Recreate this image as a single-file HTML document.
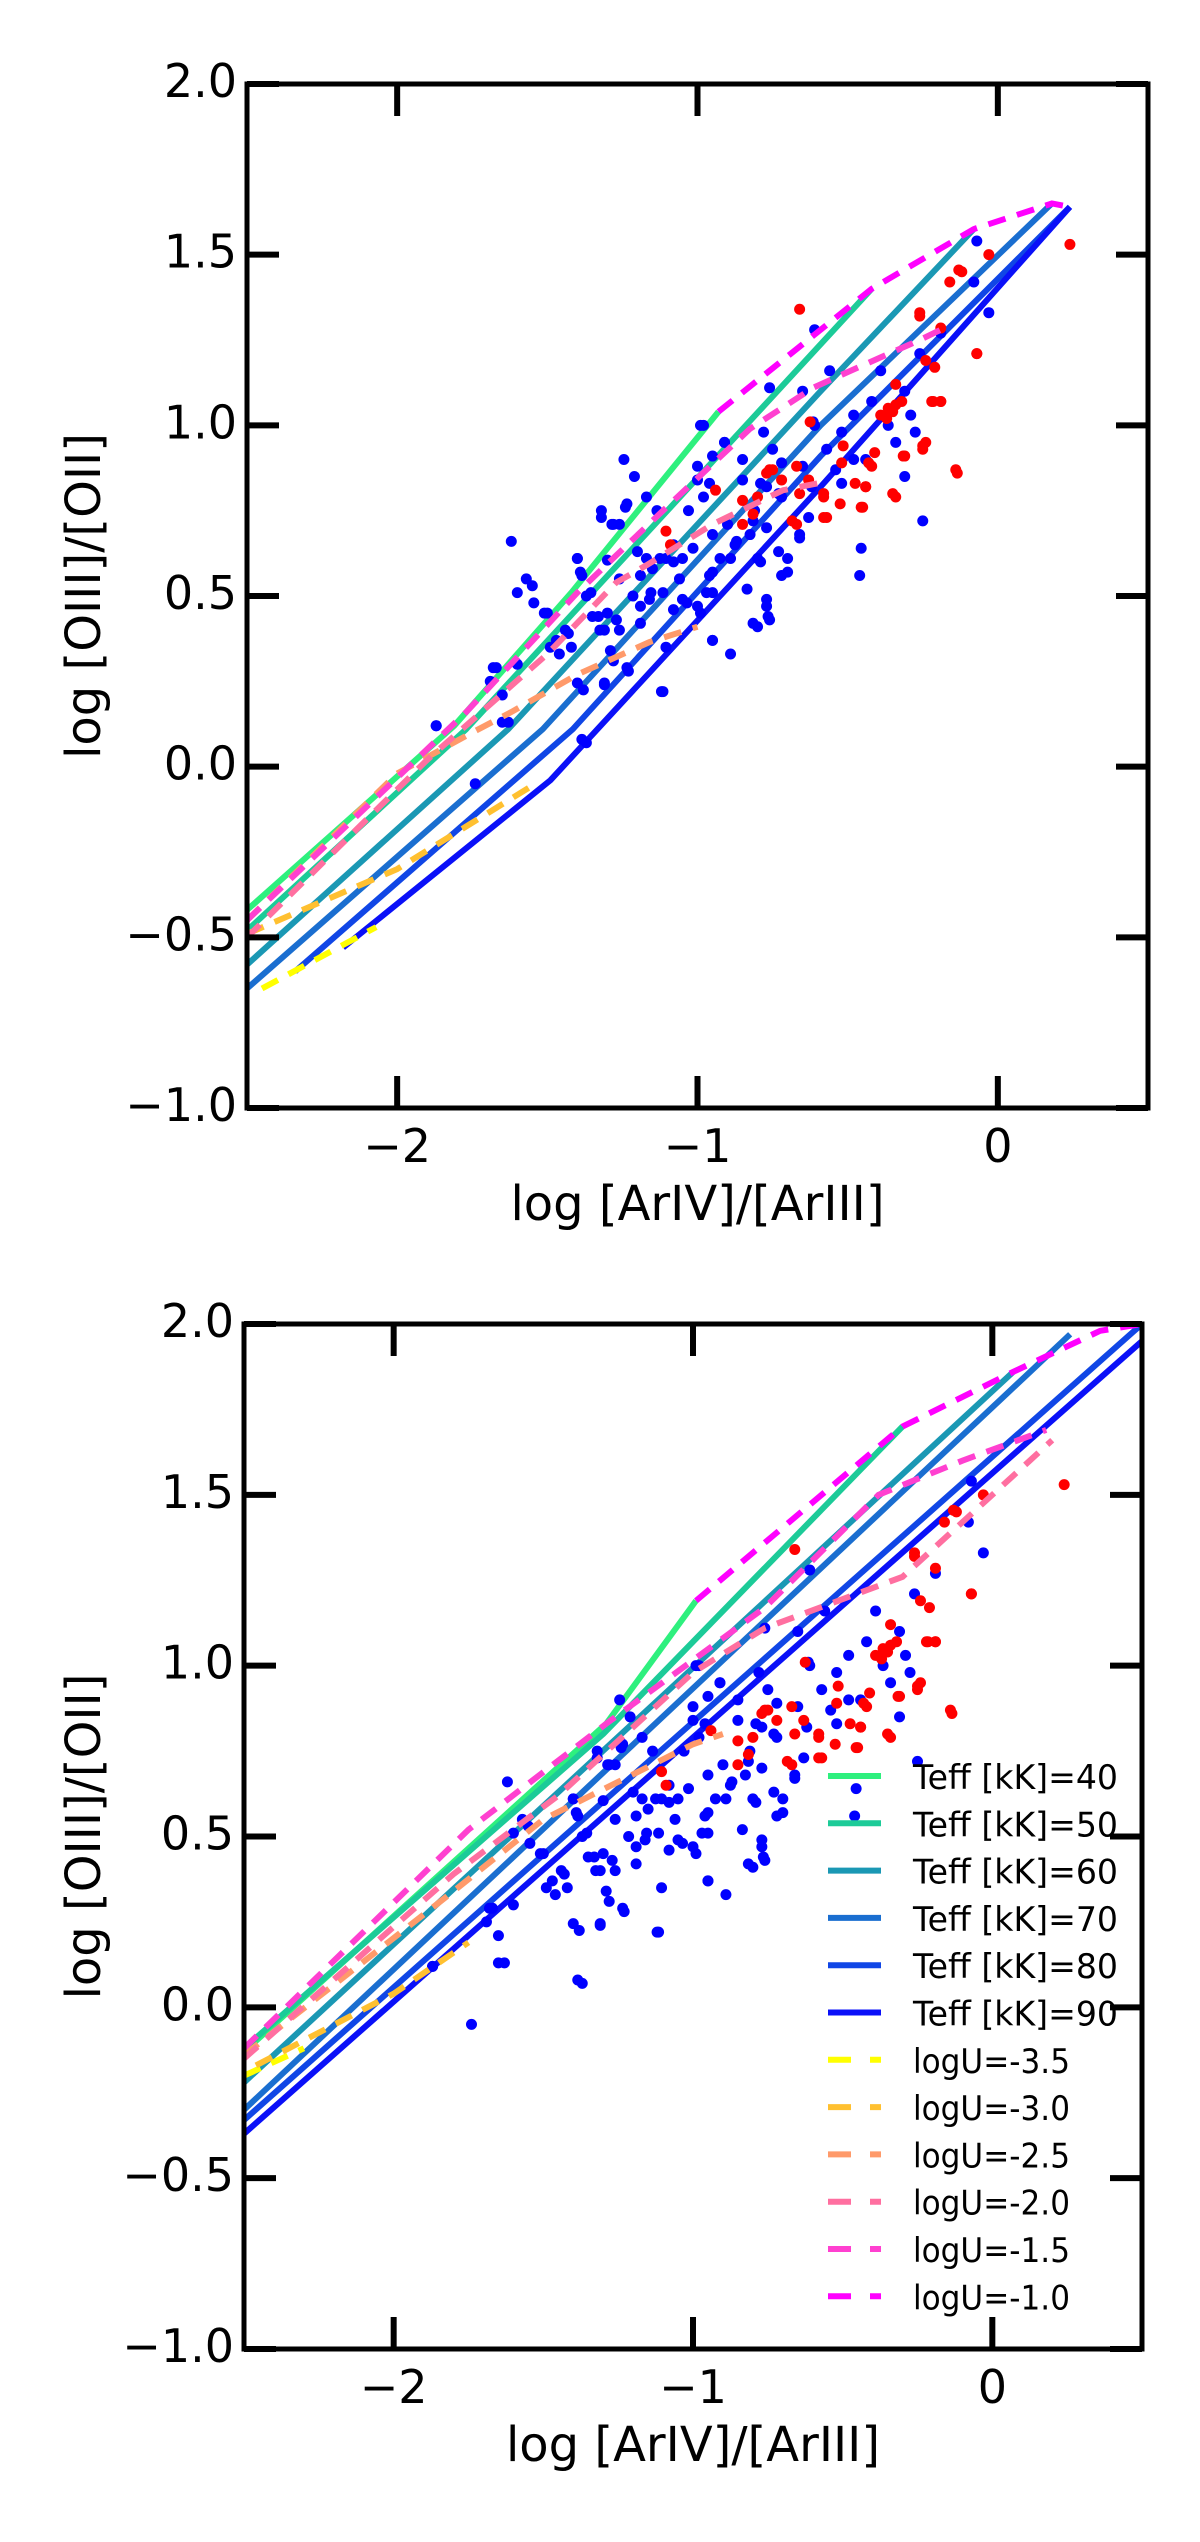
<!DOCTYPE html>
<html><head><meta charset="utf-8"><style>
html,body{margin:0;padding:0;background:#fff;}
svg{display:block;font-family:"DejaVu Sans","Liberation Sans",sans-serif;}
</style></head><body>
<svg id="fig" width="1200" height="2542" viewBox="0 0 1200 2542" xmlns="http://www.w3.org/2000/svg">
<rect width="1200" height="2542" fill="#fff"/>
</svg>
<script>
// ---- data (shared observations) ----
const blueX=[-1.62,-1.245,-0.98,-1.60,-1.57,-1.55,-1.51,-1.40,-1.385,-1.68,-1.69,-1.65,-1.63,-1.87,-1.74,-1.385,-1.37,-1.32,-1.28,-1.26,-1.24,-1.355,-1.33,-1.31,-1.28,-1.31,-1.21,-1.17,-1.135,-1.105,-1.08,-1.12,-1.19,-1.155,-1.03,-1.00,-0.95,-0.91,-1.05,-1.00,-0.95,-0.96,-0.925,-0.875,-0.85,-0.81,-0.80,-0.77,-0.76,-0.80,-0.77,-0.76,-0.77,-0.72,-0.72,-0.70,-0.72,-0.66,-0.62,-0.61,-0.61,-0.57,-0.56,-0.54,-0.52,-0.52,-0.48,-0.48,-0.455,-0.46,-0.44,-0.39,-0.365,-0.34,-0.31,-0.29,-0.275,-0.25,-0.26,-0.19,-0.08,-0.07,-0.03,-0.31,-0.42,-0.65,-0.89,-0.95,-1.105,-1.23,-1.46,-1.44,-1.49,
-1.32,-1.285,-1.235,-0.99,-0.98,-0.96,-1.00,-0.91,-0.85,-0.78,-0.75,-0.79,-0.73,-0.65,-0.615,-0.815,-0.90,-0.95,-1.015,-1.05,-1.08,-1.125,-1.15,-1.20,-1.19,-1.215,-1.26,-1.27,-1.30,-1.35,-1.325,-1.26,-1.19,-1.16,-1.115,-1.08,-1.035,-0.99,-0.97,-0.95,-1.06,-0.89,-0.87,-0.825,-0.79,-0.70,-0.73,-0.66,-0.63,-0.835,-0.77,-0.765,-0.815,-0.95,-1.115,-1.235,-1.31,-1.40,-1.42,-1.43,-1.50,-1.545,-1.39,-1.40,-1.30,-1.17,-1.37,-1.47,-1.29,-1.38,-1.67,-1.60,-1.65,-1.87];
const blueY=[0.66,0.90,1.00,0.51,0.55,0.53,0.45,0.61,0.56,0.29,0.25,0.21,0.13,0.12,-0.05,0.08,0.07,0.73,0.71,0.71,0.76,0.51,0.44,0.40,0.31,0.24,0.85,0.79,0.75,0.61,0.65,0.22,0.42,0.51,0.75,0.84,0.91,0.95,0.49,0.47,0.37,0.56,0.61,0.65,0.84,0.75,0.61,0.70,0.43,0.41,0.49,1.11,0.82,0.89,0.79,0.61,0.56,0.68,0.82,1.28,1.00,0.93,1.16,0.87,0.98,0.83,0.90,1.03,0.64,0.56,0.90,1.16,1.00,0.95,0.85,1.03,0.98,0.72,1.21,1.27,1.42,1.54,1.33,1.10,1.07,1.10,0.33,0.51,0.35,0.28,0.33,0.40,0.35,
0.75,0.71,0.77,1.00,0.79,0.83,0.88,0.95,0.90,0.98,0.93,0.83,0.80,0.88,1.01,0.72,0.71,0.68,0.64,0.61,0.60,0.61,0.58,0.63,0.56,0.50,0.55,0.43,0.45,0.44,0.40,0.40,0.47,0.49,0.51,0.46,0.48,0.45,0.51,0.57,0.55,0.61,0.66,0.68,0.60,0.57,0.63,0.67,0.73,0.52,0.47,0.44,0.42,0.37,0.22,0.29,0.245,0.245,0.35,0.39,0.45,0.48,0.57,0.61,0.605,0.61,0.50,0.37,0.34,0.225,0.29,0.30,0.13,0.12];
const redX=[-0.66,-0.12,-0.03,0.24,-0.07,-0.135,-0.22,-0.19,-0.34,-0.31,-0.24,-0.25,-0.365,-0.34,-0.39,-0.455,-0.44,-0.43,-0.52,-0.57,-0.58,-0.67,-0.72,-0.75,-0.80,-0.85,-0.94,-1.09,-1.105,-0.77,-0.63,-0.24,-0.26,-0.16,-0.215,-0.19,-0.25,-0.315,-0.14,-0.35,-0.45,-0.58,-0.44,-0.475,-0.42,-0.41,-0.515,-0.34,-0.37,-0.32,-0.35,-0.21,-0.07,-0.13,-0.26,-0.19,-0.66,-0.67,-0.76,-0.625,-0.58,-0.525,-0.685,-0.85,-0.815];
const redY=[1.34,1.45,1.50,1.53,1.21,0.86,1.07,1.07,0.79,0.91,0.95,0.93,1.05,1.06,1.03,0.76,0.82,0.89,0.89,0.73,0.79,0.71,0.84,0.87,0.79,0.78,0.81,0.65,0.69,0.86,0.84,1.19,1.32,1.42,1.07,1.07,0.94,0.91,0.87,0.80,0.76,0.73,0.82,0.83,0.88,0.92,0.94,1.12,1.02,1.07,1.04,1.17,1.21,1.455,1.33,1.285,0.80,0.88,0.87,1.01,0.80,0.77,0.72,0.71,0.74];

// ---- model grids: top panel ----
const teffLabels=["Teff [kK]=40","Teff [kK]=50","Teff [kK]=60","Teff [kK]=70","Teff [kK]=80","Teff [kK]=90"];
const logULabels=["logU=-3.5","logU=-3.0","logU=-2.5","logU=-2.0","logU=-1.5","logU=-1.0"];
const teffTop=[
 [[-2.5,-0.42],[-1.81,0.12],[-1.42,0.51],[-0.93,1.04]],
 [[-2.5,-0.48],[-1.77,0.11],[-0.42,1.40]],
 [[-2.5,-0.58],[-1.63,0.11],[-0.59,1.10],[-0.08,1.575]],
 [[-2.5,-0.65],[-1.515,0.11],[-0.59,1.00],[0.18,1.65]],
 [[-2.34,-0.60],[-1.415,0.11],[-0.59,0.91],[0.24,1.64]],
 [[-2.18,-0.53],[-1.49,-0.04],[-0.59,0.82],[0.24,1.64]]];
const logUTop=[
 [[-2.45,-0.65],[-2.07,-0.47]],
 [[-2.5,-0.49],[-2.0,-0.30],[-1.54,-0.05]],
 [[-2.5,-0.45],[-2.0,-0.02],[-1.75,0.10],[-1.62,0.16],[-1.40,0.27],[-1.16,0.365],[-1.0,0.41]],
 [[-2.5,-0.50],[-1.9,0.02],[-1.5,0.33],[-1.27,0.54],[-1.17,0.59],[-0.95,0.71],[-0.715,0.81],[-0.60,0.83]],
 [[-2.5,-0.45],[-1.77,0.16],[-1.40,0.51],[-1.115,0.75],[-0.825,0.99],[-0.615,1.11],[-0.49,1.16],[-0.26,1.25],[-0.19,1.28]],
 [[-0.93,1.04],[-0.42,1.40],[-0.08,1.575],[0.18,1.65],[0.24,1.64]]];
// ---- bottom panel ----
const teffBot=[
 [[-2.5,-0.13],[-1.29,0.83],[-0.99,1.19]],
 [[-2.5,-0.12],[-1.3,0.80],[-0.30,1.70]],
 [[-2.5,-0.22],[0.07,1.86]],
 [[-2.5,-0.30],[0.26,1.97]],
 [[-2.5,-0.33],[0.5,2.0]],
 [[-2.5,-0.37],[0.5,1.95]]];
const logUBot=[
 [[-2.5,-0.20],[-2.3,-0.12]],
 [[-2.46,-0.17],[-2.0,0.04],[-1.75,0.19]],
 [[-2.5,-0.14],[-1.8,0.34],[-1.5,0.55],[-1.0,0.77],[-0.9,0.80]],
 [[-2.5,-0.15],[-1.8,0.39],[-1.45,0.62],[-1.0,0.98],[-0.76,1.11],[-0.30,1.26],[0.2,1.66]],
 [[-2.5,-0.12],[-1.75,0.52],[-1.29,0.83],[-0.76,1.17],[-0.38,1.50],[-0.1,1.60],[0.18,1.69]],
 [[-0.99,1.19],[-0.30,1.70],[0.07,1.86],[0.36,1.98],[0.5,2.0]]];
const xTicks=[-2,-1,0];
const xTickLabels=["\u22122","\u22121","0"];
const yTicks=[-1,-0.5,0,0.5,1,1.5,2];
const yTickLabels=["\u22121.0","\u22120.5","0.0","0.5","1.0","1.5","2.0"];

const teffColors=["#2ef07e","#1ccb98","#1a98b4","#1a6ed0","#1046e6","#0a10f8"];
const logUColors=["#ffff00","#ffc030","#ff9a6a","#ff6fa0","#ff40d0","#ff00ff"];
const NS="http://www.w3.org/2000/svg";
const svg=document.getElementById("fig");
function mk(tag,attrs,parent){const e=document.createElementNS(NS,tag);for(const k in attrs)e.setAttribute(k,attrs[k]);(parent||svg).appendChild(e);return e;}

function panel(name,L,R,T,B,teff,logU,legend){
  const g=mk("g",{});
  
  
  const sx=v=>L+(v+2.5)/3*(R-L);
  const sy=v=>B-(v+1)/3*(B-T);
  const clip=mk("clipPath",{id:name+"-clip"},g);
  mk("rect",{x:L,y:T,width:R-L,height:B-T},clip);
  const plot=mk("g",{"clip-path":"url(#"+name+"-clip)"},g);
  teff.forEach((ln,i)=>{
    const p=mk("polyline",{points:ln.map(q=>sx(q[0])+","+sy(q[1])).join(" "),fill:"none",stroke:teffColors[i],"stroke-width":6,"stroke-linejoin":"round"},plot);
    
    
  });
  blueX.forEach((x,i)=>{
    const c=mk("circle",{cx:sx(x),cy:sy(blueY[i]),r:5.5,fill:"#0000ff"},plot);
    
    
  });
  redX.forEach((x,i)=>{
    const c=mk("circle",{cx:sx(x),cy:sy(redY[i]),r:5.5,fill:"#ff0000"},plot);
    
    
  });
  logU.forEach((ln,i)=>{
    const p=mk("polyline",{points:ln.map(q=>sx(q[0])+","+sy(q[1])).join(" "),fill:"none",stroke:logUColors[i],"stroke-width":6,"stroke-dasharray":"18,12"},plot);
    
    
  });
  const fr=mk("rect",{x:L,y:T,width:R-L,height:B-T,fill:"none",stroke:"#000","stroke-width":5},g);
  
  
  xTicks.forEach((v,i)=>{
    const x=sx(v);
    mk("line",{x1:x,y1:B,x2:x,y2:B-32,stroke:"#000","stroke-width":6},g);
    mk("line",{x1:x,y1:T,x2:x,y2:T+32,stroke:"#000","stroke-width":6},g);
    const t=mk("text",{x:x,y:B+54,"text-anchor":"middle","font-size":46,fill:"#000"},g);
    t.textContent=xTickLabels[i];
    
    
  });
  yTicks.forEach((v,i)=>{
    const y=sy(v);
    mk("line",{x1:L,y1:y,x2:L+32,y2:y,stroke:"#000","stroke-width":6},g);
    mk("line",{x1:R,y1:y,x2:R-32,y2:y,stroke:"#000","stroke-width":6},g);
    const t=mk("text",{x:L-10,y:y+13,"text-anchor":"end","font-size":46,fill:"#000"},g);
    t.textContent=yTickLabels[i];
    
    
  });
  const xl=mk("text",{x:(L+R)/2,y:B+112,"text-anchor":"middle","font-size":48,fill:"#000"},g);
  xl.textContent="log [ArIV]/[ArIII]";
  
  
  const yc=(T+B)/2;
  const yl=mk("text",{x:100,y:yc,"text-anchor":"middle","font-size":48,fill:"#000",transform:"rotate(-90 100 "+yc+")"},g);
  yl.textContent="log [OIII]/[OII]";
  
  
  if(legend){
    const lg=mk("g",{},g);
    
    
    const labels=teffLabels.concat(logULabels);
    labels.forEach((lab,i)=>{
      const y=1776+i*47.3;
      const isT=i<6;
      const col=isT?teffColors[i]:logUColors[i-6];
      const ln=mk("line",{x1:828,y1:y,x2:881,y2:y,stroke:col,"stroke-width":6},lg);
      if(!isT) ln.setAttribute("stroke-dasharray","23,19");
      
      
      const t=mk("text",{x:913,y:y+13,"font-size":34,fill:"#000",textLength:isT?205:157,lengthAdjust:"spacingAndGlyphs"},lg);
      t.textContent=lab;
      
      
    });
  }
}
panel("top-chart",247,1148,84,1108,teffTop,logUTop,false);
panel("bottom-chart",244,1142,1324,2349,teffBot,logUBot,true);
</script>
</body></html>
